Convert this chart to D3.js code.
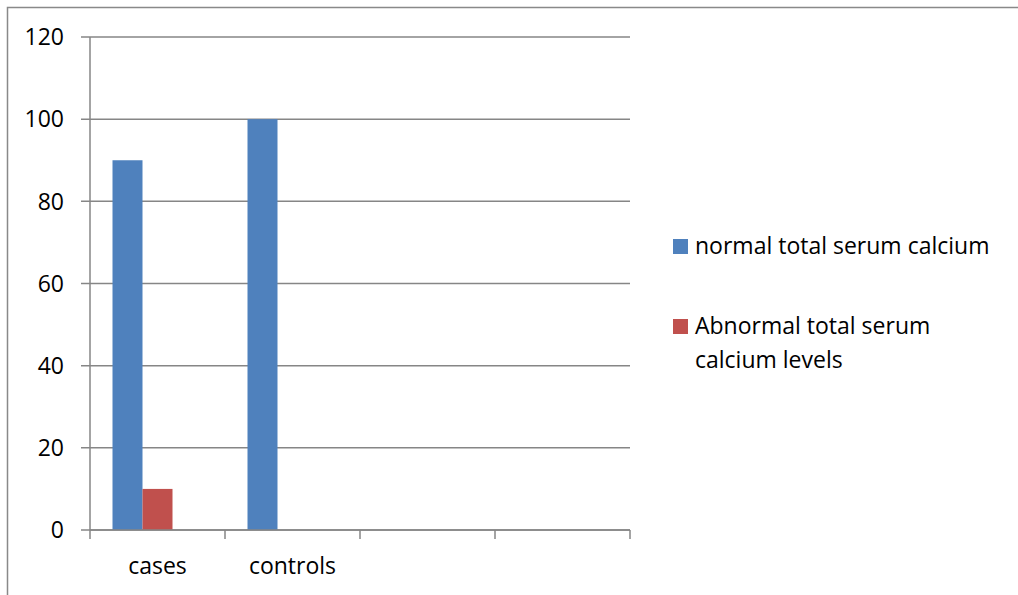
<!DOCTYPE html>
<html>
<head>
<meta charset="utf-8">
<script src="https://cdn.jsdelivr.net/npm/d3@7"></script>
<style>
  html, body { margin: 0; padding: 0; background: #ffffff; }
  svg { display: block; }
  text { font-family: "Open Sans", "Liberation Sans", sans-serif; fill: #000; }
</style>
</head>
<body>
<svg id="chart" width="1018" height="595"></svg>
<script>
// Category axis has four slots; only the first two hold data
const categories = ["cases", "controls", "c3", "c4"];
const categoryLabels = ["cases", "controls", "", ""];
// Series (the third slot is an empty series that keeps the bar spacing)
const seriesNames = ["normal total serum calcium", "Abnormal total serum calcium levels", ""];
const normalValues = [90, 100, null, null];
const abnormalValues = [10, null, null, null];
const emptyValues = [null, null, null, null];
const yTicks = [0, 20, 40, 60, 80, 100, 120];

const colors = ["#4F81BD", "#C0504D", "#9BBB59"];
const seriesValues = [normalValues, abnormalValues, emptyValues];

const fontSize = 23;
const svg = d3.select("#chart");

// outer chart frame
svg.append("rect")
  .attr("x", 7.5).attr("y", 7.5)
  .attr("width", 1030).attr("height", 610)
  .attr("fill", "none").attr("stroke", "#898989").attr("stroke-width", 1.5);

const plot = { left: 90, right: 630, top: 37, bottom: 530 };

const x = d3.scaleBand()
  .domain(categories)
  .range([plot.left, plot.right]);

// inner band: 3 series slots of equal width, with 150% gap between groups
const xs = d3.scaleBand()
  .domain(d3.range(seriesValues.length))
  .range([0, x.bandwidth()])
  .paddingInner(0)
  .paddingOuter(0.75);

const y = d3.scaleLinear()
  .domain([0, 120])
  .range([plot.bottom, plot.top]);

const gridColor = "#868686";

// horizontal gridlines with left tick marks
svg.append("g")
  .selectAll("line")
  .data(yTicks)
  .join("line")
  .attr("x1", plot.left - 9)
  .attr("x2", plot.right)
  .attr("y1", d => y(d))
  .attr("y2", d => y(d))
  .attr("stroke", gridColor)
  .attr("stroke-width", 1.5);

// y tick labels
svg.append("g")
  .selectAll("text")
  .data(yTicks)
  .join("text")
  .attr("x", 64)
  .attr("y", d => y(d))
  .attr("dy", "0.36em")
  .attr("text-anchor", "end")
  .attr("font-size", fontSize)
  .text(d => d);

// bars
const barData = [];
seriesValues.forEach((vals, si) => {
  vals.forEach((v, ci) => {
    if (v != null) barData.push({ si, cat: categories[ci], v });
  });
});

svg.append("g")
  .selectAll("rect")
  .data(barData)
  .join("rect")
  .attr("x", d => x(d.cat) + xs(d.si))
  .attr("width", xs.bandwidth())
  .attr("y", d => y(d.v))
  .attr("height", d => y(0) - y(d.v))
  .attr("fill", d => colors[d.si]);

// value axis line
svg.append("line")
  .attr("x1", plot.left).attr("x2", plot.left)
  .attr("y1", plot.top).attr("y2", plot.bottom)
  .attr("stroke", gridColor).attr("stroke-width", 1.5);

// category axis with boundary ticks
const boundaries = categories.map(c => x(c)).concat([plot.right]);
svg.append("line")
  .attr("x1", plot.left).attr("x2", plot.right)
  .attr("y1", plot.bottom).attr("y2", plot.bottom)
  .attr("stroke", gridColor).attr("stroke-width", 1.5);
svg.append("g")
  .selectAll("line")
  .data(boundaries)
  .join("line")
  .attr("x1", d => d).attr("x2", d => d)
  .attr("y1", plot.bottom).attr("y2", plot.bottom + 9)
  .attr("stroke", gridColor).attr("stroke-width", 1.5);

// category labels
svg.append("g")
  .selectAll("text")
  .data(categories)
  .join("text")
  .attr("x", d => x(d) + x.bandwidth() / 2)
  .attr("y", 574)
  .attr("text-anchor", "middle")
  .attr("font-size", fontSize)
  .text((d, i) => categoryLabels[i]);

// legend
const legendItems = [
  { color: colors[0], lines: ["normal total serum calcium"], y: 254 },
  { color: colors[1], lines: ["Abnormal total serum", "calcium levels"], y: 334 }
];
const legend = svg.append("g");
legendItems.forEach(item => {
  legend.append("rect")
    .attr("x", 673).attr("y", item.y - 15)
    .attr("width", 15).attr("height", 15)
    .attr("fill", item.color);
  const t = legend.append("text")
    .attr("x", 695).attr("y", item.y)
    .attr("font-size", fontSize);
  item.lines.forEach((ln, i) => {
    t.append("tspan").attr("x", 695).attr("dy", i === 0 ? 0 : 34).text(ln);
  });
});
</script>
</body>
</html>
